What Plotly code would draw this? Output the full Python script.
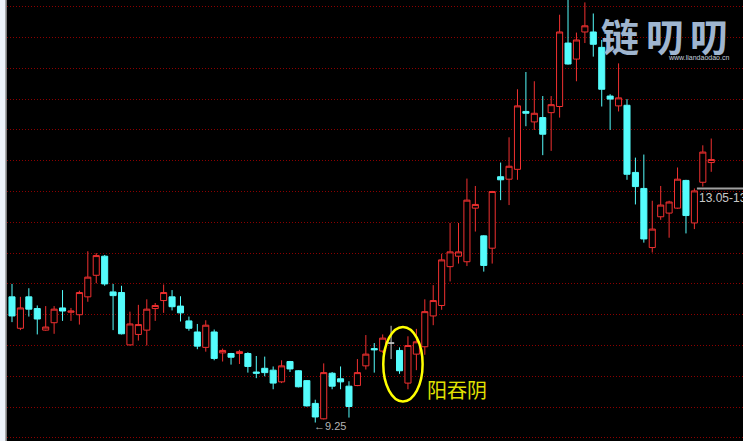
import plotly.graph_objects as go

# ---- data (one candle per trading day) ----
day_index = list(range(84))

open_prices = [
    11.29, 10.78, 11.29, 11.10, 10.75, 10.87, 11.11, 11.04, 11.00, 11.29,
    11.64, 11.95, 11.37, 11.36, 10.51, 10.68, 10.75, 11.10, 11.23, 11.29,
    11.14, 10.90, 10.72, 10.47, 10.72, 10.38, 10.37, 10.37, 10.37, 10.07,
    10.13, 10.10, 9.91, 10.24, 10.09, 9.93, 9.56, 9.31, 10.05, 9.96,
    9.84, 9.85, 10.17, 10.45, 10.41, 10.54, 10.42, 9.89, 10.36, 10.48,
    10.98, 11.15, 11.78, 11.95, 11.86, 12.73, 12.28, 12.08, 13.24, 13.20,
    13.36, 14.30, 14.13, 14.20, 14.28, 14.38, 15.41, 15.15, 15.59, 15.59,
    15.34, 14.55, 14.39, 14.40, 13.31, 13.05, 12.09, 12.59, 12.65, 12.73,
    13.18, 12.49, 13.15, 13.47,
]
high_prices = [
    11.50, 11.29, 11.43, 11.15, 11.14, 11.14, 11.40, 11.11, 11.39, 12.03,
    12.00, 11.97, 11.50, 11.47, 11.05, 11.16, 11.25, 11.19, 11.49, 11.40,
    11.30, 10.97, 10.85, 10.91, 10.76, 10.45, 10.38, 10.43, 10.39, 10.33,
    10.32, 10.16, 10.26, 10.25, 10.10, 9.94, 9.62, 10.21, 10.07, 10.16,
    9.92, 10.28, 10.67, 10.54, 10.68, 10.82, 10.47, 10.65, 10.77, 11.25,
    11.48, 11.99, 12.49, 12.49, 13.21, 13.09, 12.29, 13.01, 13.47, 13.88,
    14.66, 14.94, 14.79, 14.55, 14.55, 15.87, 16.15, 15.58, 16.07, 15.89,
    15.46, 14.58, 15.08, 14.50, 13.55, 13.60, 12.85, 13.09, 12.85, 13.39,
    13.19, 13.05, 13.75, 13.86,
]
low_prices = [
    10.88, 10.75, 10.97, 10.68, 10.74, 10.69, 10.90, 10.90, 10.84, 11.21,
    11.51, 11.47, 10.75, 10.68, 10.50, 10.58, 10.50, 10.90, 11.03, 11.07,
    10.89, 10.74, 10.44, 10.40, 10.26, 10.24, 10.19, 10.20, 10.06, 9.97,
    10.00, 9.79, 9.89, 10.07, 9.82, 9.51, 9.25, 9.30, 9.79, 9.79,
    9.33, 9.84, 10.11, 10.06, 10.38, 10.28, 10.04, 9.79, 10.10, 10.35,
    10.83, 11.08, 11.54, 11.83, 11.79, 12.35, 11.70, 11.83, 12.86, 12.78,
    13.19, 14.06, 14.00, 13.59, 13.66, 14.20, 15.06, 14.79, 15.41, 15.19,
    14.38, 14.00, 14.30, 13.19, 12.79, 12.17, 12.01, 12.54, 12.25, 12.72,
    12.32, 12.39, 13.08, 13.32,
]
close_prices = [
    10.98, 11.11, 11.09, 10.93, 10.80, 11.09, 11.06, 11.06, 11.36, 11.61,
    11.96, 11.50, 11.31, 10.69, 10.85, 10.84, 11.09, 11.15, 11.36, 11.13,
    11.03, 10.78, 10.49, 10.83, 10.29, 10.42, 10.31, 10.40, 10.16, 10.05,
    10.06, 9.89, 10.17, 10.12, 9.83, 9.52, 9.34, 10.06, 9.84, 9.91,
    9.51, 10.06, 10.36, 10.43, 10.62, 10.54, 10.09, 10.50, 10.56, 11.05,
    11.23, 11.89, 12.02, 12.02, 12.86, 12.79, 11.80, 13.00, 13.19, 13.41,
    14.39, 14.27, 14.27, 13.93, 14.41, 15.59, 15.07, 15.46, 15.69, 15.39,
    14.66, 14.50, 14.52, 13.28, 13.08, 12.23, 12.39, 12.78, 12.83, 13.20,
    12.61, 13.01, 13.64, 13.52,
]

low_label = "←9.25"
range_label = "13.05-13"
range_level = 13.05
pattern_label = "阳吞阴"
logo_chars = ["链", "叨", "叨"]
logo_url = "www.liandaodao.cn"

up_color = "#f03030"
down_color = "#54fcfc"
doji_color = "#c8c8c8"

moving = [i for i in day_index if open_prices[i] != close_prices[i]]
flat = [i for i in day_index if open_prices[i] == close_prices[i]]


def pick(values, idx):
    return [values[i] for i in idx]


fig = go.Figure()
fig.add_trace(go.Candlestick(
    x=pick(day_index, moving),
    open=pick(open_prices, moving),
    high=pick(high_prices, moving),
    low=pick(low_prices, moving),
    close=pick(close_prices, moving),
    increasing=dict(line=dict(color=up_color, width=1), fillcolor="#000000"),
    decreasing=dict(line=dict(color=down_color, width=1), fillcolor=down_color),
    hoverinfo="skip", showlegend=False,
))
fig.add_trace(go.Candlestick(
    x=pick(day_index, flat),
    open=pick(open_prices, flat),
    high=pick(high_prices, flat),
    low=pick(low_prices, flat),
    close=pick(close_prices, flat),
    increasing=dict(line=dict(color=doji_color, width=1), fillcolor=doji_color),
    decreasing=dict(line=dict(color=doji_color, width=1), fillcolor=doji_color),
    hoverinfo="skip", showlegend=False,
))

shapes = [
    # left border of the chart window
    dict(type="line", xref="paper", yref="paper", x0=-0.0011, x1=-0.0011, y0=0, y1=1,
         line=dict(color="#7c7c7c", width=1.6)),
    # highlighted engulfing pattern
    dict(type="circle", xref="x", yref="y", x0=44.07, x1=48.74, y0=9.59, y1=10.80,
         line=dict(color="#ffff00", width=2.5)),
    # price range marker at right
    dict(type="line", xref="x", yref="y", x0=81.3, x1=88, y0=range_level, y1=range_level,
         line=dict(color="#a0a0a0", width=2)),
]

annotations = [
    dict(x=49.0, y=9.78, xref="x", yref="y", text=pattern_label, showarrow=False,
         xanchor="left", yanchor="middle",
         font=dict(family="Noto Sans CJK SC", size=20, color="#e2e200")),
    dict(x=36, y=9.25, xref="x", yref="y", text=low_label, showarrow=False,
         xanchor="left", yanchor="middle", xshift=-3, yshift=-3,
         font=dict(family="Liberation Sans", size=11, color="#b4b4b4")),
    dict(x=81.3, y=range_level, xref="x", yref="y", text=range_label, showarrow=False,
         xanchor="left", yanchor="top", xshift=0, yshift=-1,
         font=dict(family="Liberation Sans", size=12, color="#c8c8c8")),
]
logo_x = [620, 665, 709]
for ch, px in zip(logo_chars, logo_x):
    annotations.append(dict(
        x=(px - 7) / 736, y=1 - 34 / 441, xref="paper", yref="paper", text="<b>%s</b>" % ch,
        showarrow=False, xanchor="center", yanchor="middle",
        font=dict(family="Noto Sans CJK SC", size=38, color="#9fb5cf")))
annotations.append(dict(
    x=(698 - 7) / 736, y=1 - 58 / 441, xref="paper", yref="paper", text=logo_url,
    showarrow=False, xanchor="center", yanchor="middle",
    font=dict(family="Liberation Sans", size=7, color="#c4d0de")))

fig.update_layout(
    width=743, height=441,
    margin=dict(l=7, r=0, t=0, b=0, pad=0),
    paper_bgcolor="#eef3fa",
    plot_bgcolor="#000000",
    boxgap=0.28, boxgroupgap=0,
    showlegend=False,
    xaxis=dict(range=[-0.593, 86.77], showgrid=False, zeroline=False, showticklabels=False,
               ticks="", showline=False, rangeslider=dict(visible=False), fixedrange=True),
    yaxis=dict(range=[8.95, 16.109], showgrid=True, gridcolor="#8c0000", gridwidth=1,
               griddash="1px,2px", tick0=0, dtick=0.5, zeroline=False,
               showticklabels=False, ticks="", showline=False, fixedrange=True),
    shapes=shapes,
    annotations=annotations,
)

fig.write_html("out.html", config={"displayModeBar": False},
               post_script="document.body.style.margin='0px';document.body.style.overflow='hidden';")
